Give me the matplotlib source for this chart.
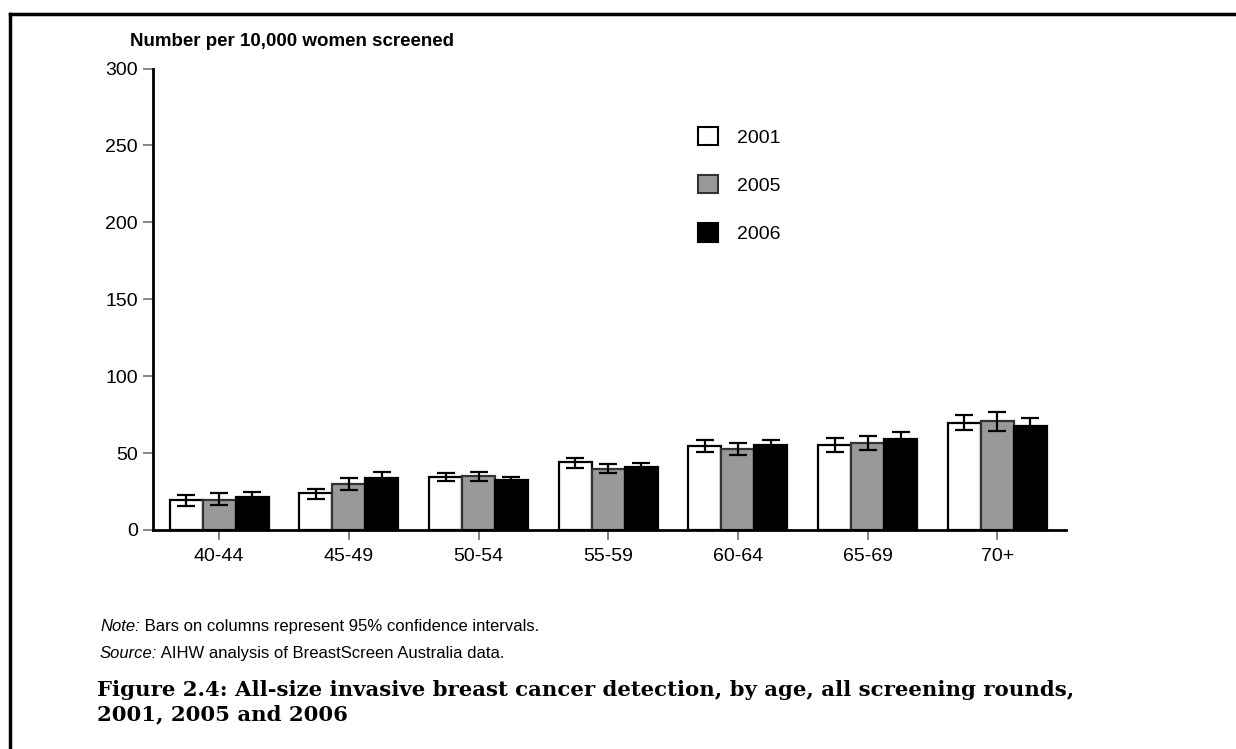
import numpy as np
import matplotlib
matplotlib.use('agg')
import matplotlib.pyplot as plt
from matplotlib.patches import Patch
from matplotlib.lines import Line2D

plt.rcParams['font.family'] = ['Liberation Sans', 'DejaVu Sans']

# data
ages = ['40-44', '45-49', '50-54', '55-59', '60-64', '65-69', '70+']
years = ['2001', '2005', '2006']
v2001 = [19.5, 23.9, 34.7, 44.0, 54.5, 55.3, 69.8]
lo2001 = [15.5, 20.4, 31.7, 40.0, 50.5, 50.7, 65.0]
hi2001 = [23.0, 26.7, 37.3, 47.0, 58.5, 59.8, 74.7]
v2005 = [19.8, 30.1, 35.1, 39.9, 52.7, 56.5, 70.6]
lo2005 = [16.5, 25.8, 32.0, 37.0, 48.8, 52.0, 64.6]
hi2005 = [24.0, 33.8, 37.7, 43.0, 56.5, 61.0, 76.9]
v2006 = [21.2, 33.8, 32.3, 41.0, 55.3, 59.4, 67.4]
lo2006 = [17.5, 29.9, 29.9, 38.4, 51.8, 54.8, 62.2]
hi2006 = [24.9, 37.7, 34.7, 43.6, 58.8, 64.0, 72.6]

W, H = 1236, 749
fig = plt.figure(figsize=(W / 100, H / 100), dpi=100)
ax = fig.add_axes([153 / W, 1 - 530 / H, (1066 - 153) / W, (530 - 68.5) / H])

x = np.arange(len(ages))
bw = 0.254
series = [(v2001, lo2001, hi2001, 'white', 'black'),
          (v2005, lo2005, hi2005, '#999999', '#333333'),
          (v2006, lo2006, hi2006, 'black', 'black')]
for i, (v, lo, hi, fc, ec) in enumerate(series):
    xs = x + (i - 1) * bw
    v = np.array(v)
    ax.bar(xs, v, bw, color=fc, edgecolor=ec, linewidth=1.6, zorder=2)
    err = [v - np.array(lo), np.array(hi) - v]
    ax.errorbar(xs, v, yerr=err, fmt='none', ecolor='black', elinewidth=1.6,
                capsize=6.5, capthick=1.6, zorder=3)

ax.set_xlim(-0.51, 6.53)
ax.set_ylim(0, 300)
ax.set_yticks([0, 50, 100, 150, 200, 250, 300])
ax.set_xticks(x)
ax.set_xticklabels(ages)
ax.tick_params(axis='both', direction='out', length=7, width=1.2, color='#707070',
               labelsize=14, pad=4)
ax.tick_params(axis='x', pad=6)
for s in ['top', 'right']:
    ax.spines[s].set_visible(False)
for s in ['left', 'bottom']:
    ax.spines[s].set_linewidth(2)

fig.text(130 / W, 1 - 41 / H, 'Number per 10,000 women screened', fontsize=13.5,
         fontweight='bold', va='center', ha='left')

handles = [Patch(facecolor='white', edgecolor='black', linewidth=1.5),
           Patch(facecolor='#999999', edgecolor='#333333', linewidth=1.5),
           Patch(facecolor='black', edgecolor='black', linewidth=1.5)]
fig.legend(handles, years, loc='upper left', bbox_to_anchor=(698 / W, 1 - 127 / H),
           frameon=False, fontsize=14, handlelength=1.05, handleheight=1.05,
           handletextpad=0.95, labelspacing=1.47, borderpad=0, borderaxespad=0)

# notes: italic lead word, then plain text on the same baseline
rend = fig.canvas.get_renderer()
notes = [('Note:', ' Bars on columns represent 95% confidence intervals.', 631),
         ('Source:', ' AIHW analysis of BreastScreen Australia data.', 658)]
for lead, rest, ypx in notes:
    t = fig.text(100 / W, 1 - ypx / H, lead, fontsize=12, style='italic', va='baseline')
    x1 = t.get_window_extent(rend).x1
    fig.text(x1 / W, 1 - ypx / H, rest, fontsize=12, va='baseline')

cap = ('Figure 2.4: All-size invasive breast cancer detection, by age, all screening rounds,\n'
       '2001, 2005 and 2006')
fig.text(97 / W, 1 - 680 / H, cap, fontsize=15.3, fontweight='bold',
         family='DejaVu Serif', va='top', ha='left', linespacing=1.28)

# page border (top and left only)
fig.add_artist(Line2D([10 / W, 1], [1 - 14 / H, 1 - 14 / H], color='black', lw=2.5,
                      transform=fig.transFigure))
fig.add_artist(Line2D([10 / W, 10 / W], [1 - 14 / H, 0], color='black', lw=2.5,
                      transform=fig.transFigure))

fig.savefig('out.png', dpi=100)
